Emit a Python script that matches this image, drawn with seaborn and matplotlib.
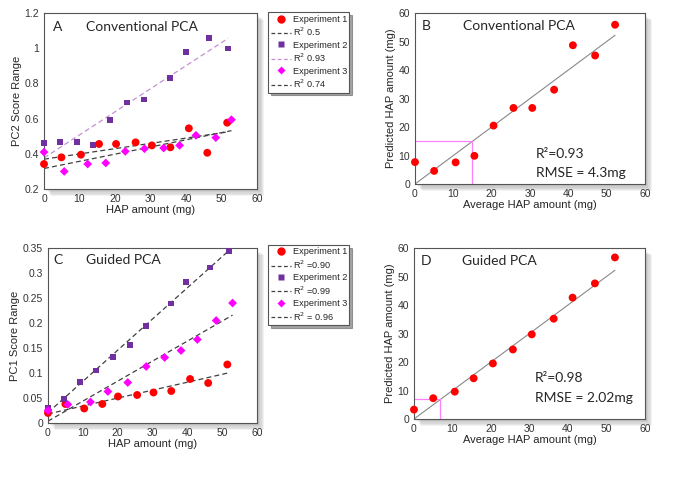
import numpy as np
import matplotlib
matplotlib.use("Agg")
import matplotlib.pyplot as plt
import matplotlib.patches as mpatches
from matplotlib.lines import Line2D
import pandas as pd
import seaborn as sns

# ---- data ----
# panel A: conventional PCA, PC2 score range
a_x1 = [0, 4.9, 10.4, 15.5, 20.3, 25.8, 30.4, 35.6, 40.8, 46.0, 51.6]
a_y1 = [0.342, 0.38, 0.395, 0.456, 0.456, 0.465, 0.448, 0.437, 0.545, 0.406, 0.577]
a_x2 = [0, 4.6, 9.3, 13.9, 18.7, 23.5, 28.1, 35.4, 39.9, 46.5, 51.9]
a_y2 = [0.461, 0.469, 0.469, 0.448, 0.594, 0.692, 0.709, 0.829, 0.98, 1.056, 0.999]
a_x3 = [0, 5.7, 12.3, 17.4, 22.9, 28.3, 33.7, 38.2, 42.8, 48.4, 52.8]
a_y3 = [0.41, 0.30, 0.342, 0.348, 0.414, 0.429, 0.433, 0.448, 0.505, 0.492, 0.594]
a_r2 = ["0.5", "0.93", "0.74"]

# panel C: guided PCA, PC1 score range
c_x1 = [0, 5.0, 10.4, 15.6, 20.1, 25.6, 30.3, 35.4, 40.8, 46.0, 51.5]
c_y1 = [0.020, 0.038, 0.029, 0.038, 0.053, 0.056, 0.061, 0.064, 0.088, 0.080, 0.117]
c_x2 = [0, 4.7, 9.3, 13.9, 18.7, 23.5, 28.1, 35.3, 39.7, 46.5, 51.9]
c_y2 = [0.030, 0.048, 0.082, 0.105, 0.132, 0.156, 0.194, 0.239, 0.282, 0.311, 0.344]
c_x3 = [0, 5.7, 12.2, 17.2, 22.9, 28.2, 33.5, 38.2, 42.9, 48.3, 53.0]
c_y3 = [0.025, 0.037, 0.042, 0.063, 0.081, 0.113, 0.131, 0.145, 0.167, 0.205, 0.240]
c_r2 = ["=0.90", "=0.99", "= 0.96"]

# panels B / D: predicted vs average HAP amount
avg_hap = [0, 5.0, 10.6, 15.5, 20.5, 25.7, 30.6, 36.3, 41.2, 47.0, 52.2]
pred_b = [7.7, 4.6, 7.6, 9.9, 20.5, 26.7, 26.7, 33.1, 48.7, 45.1, 55.9]
pred_d = [3.3, 7.3, 9.6, 14.3, 19.5, 24.4, 29.7, 35.2, 42.6, 47.6, 56.7]
lod_b = 15
lod_d = 6.85

RED = "#ff0000"
PURPLE = "#7030a0"
MAGENTA = "#ff00ff"
DARK = "#404040"
LILAC = "#c58fd6"

sns.set_style("white")
plt.rcParams["font.family"] = ["Liberation Sans", "DejaVu Sans"]
plt.rcParams["xtick.direction"] = "in"
plt.rcParams["ytick.direction"] = "in"

fig = plt.figure(figsize=(6.74, 4.78), dpi=100)

pos = {
    "A": [0.0653, 0.6046, 0.316, 0.368],
    "B": [0.6157, 0.615, 0.3412, 0.3577],
    "C": [0.0712, 0.1151, 0.310, 0.366],
    "D": [0.6142, 0.1234, 0.3427, 0.3577],
}

# soft drop shadow behind each axes box
for p in pos.values():
    for k in range(6):
        off = 0.002 + k * 0.0016
        fig.patches.append(mpatches.Rectangle(
            (p[0] + off, p[1] - off * 1.4), p[2], p[3],
            transform=fig.transFigure, facecolor="#000000",
            alpha=0.05, edgecolor="none", zorder=-5))

axes = {k: fig.add_axes(v) for k, v in pos.items()}
for a in axes.values():
    a.set_zorder(2)


def style(ax):
    ax.set_facecolor("white")
    for s in ax.spines.values():
        s.set_color("#555555")
        s.set_linewidth(0.8)
    ax.tick_params(labelsize=7.5, colors="#333333", length=2.5, width=0.6)
    ax.xaxis.label.set_size(8)
    ax.yaxis.label.set_size(8)
    ax.xaxis.labelpad = 1
    ax.yaxis.labelpad = 2


def pca_panel(ax, xs, ys, fitcols):
    markers = ["o", "s", "D"]
    cols = [RED, PURPLE, MAGENTA]
    sizes = [32, 18, 20]
    for i in range(3):
        df = pd.DataFrame({"x": xs[i], "y": ys[i]})
        sns.regplot(data=df, x="x", y="y", ax=ax, scatter=False, ci=None,
                    truncate=True,
                    line_kws=dict(color=fitcols[i], ls="--", lw=0.9, dashes=(4, 2.5)))
        sns.scatterplot(data=df, x="x", y="y", ax=ax, marker=markers[i],
                        color=cols[i], s=sizes[i], edgecolor="none", zorder=3,
                        clip_on=False)


# ---- panel A ----
ax = axes["A"]
pca_panel(ax, [a_x1, a_x2, a_x3], [a_y1, a_y2, a_y3], [DARK, LILAC, DARK])
ax.set_xlim(0, 60)
ax.set_ylim(0.2, 1.2)
ax.set_yticks([0.2, 0.4, 0.6, 0.8, 1.0, 1.2])
ax.set_yticklabels(["0.2", "0.4", "0.6", "0.8", "1", "1.2"])
ax.set_xlabel("HAP amount (mg)")
ax.set_ylabel("PC2 Score Range")
ax.text(2.5, 1.12, "A", fontsize=10, family="Lato", va="center")
ax.text(11.8, 1.12, "Conventional PCA", fontsize=10, family="Lato", va="center")
style(ax)

# ---- panel C ----
ax = axes["C"]
pca_panel(ax, [c_x1, c_x2, c_x3], [c_y1, c_y2, c_y3], [DARK, DARK, DARK])
ax.set_xlim(0, 60)
ax.set_ylim(0, 0.35)
ax.set_yticks([0, 0.05, 0.1, 0.15, 0.2, 0.25, 0.3, 0.35])
ax.set_yticklabels(["0", "0.05", "0.1", "0.15", "0.2", "0.25", "0.3", "0.35"])
ax.set_xlabel("HAP amount (mg)")
ax.set_ylabel("PC1 Score Range")
ax.text(1.6, 0.327, "C", fontsize=10, family="Lato", va="center")
ax.text(11, 0.327, "Guided PCA", fontsize=10, family="Lato", va="center")
style(ax)


def legend(r2, fitcols, top):
    handles = []
    labels = []
    markers = ["o", "s", "D"]
    cols = [RED, PURPLE, MAGENTA]
    msz = [6, 4.5, 4.5]
    for i in range(3):
        handles.append(Line2D([], [], marker=markers[i], color=cols[i], ls="none",
                              markersize=msz[i], markeredgecolor="none"))
        labels.append(f"Experiment {i + 1}")
        handles.append(Line2D([], [], color=fitcols[i], ls="--", lw=0.9, dashes=(3, 2)))
        labels.append("R$^2$ " + r2[i])
    leg = fig.legend(handles, labels, loc="upper left", bbox_to_anchor=(0.398, top),
                     fontsize=6.6, frameon=True, fancybox=False, shadow=True,
                     handlelength=2.2, handletextpad=0.2, borderpad=0.25,
                     labelspacing=0.25, borderaxespad=0)
    leg.set_zorder(3)
    leg.get_frame().set_edgecolor("#555555")
    leg.get_frame().set_linewidth(0.8)


legend(a_r2, [DARK, LILAC, DARK], 0.974)
legend(c_r2, [DARK, DARK, DARK], 0.488)


def pred_panel(ax, pred, lod, label, title, r2txt, rmse, ytxt):
    df = pd.DataFrame({"avg": avg_hap, "pred": pred})
    ax.plot([0, max(avg_hap)], [0, max(avg_hap)], color="#888888", lw=0.8)
    ax.plot([0, lod, lod], [lod, lod, 0], color="#ff80ff", lw=0.9)
    sns.scatterplot(data=df, x="avg", y="pred", ax=ax, color=RED, s=32,
                    edgecolor="none", zorder=3, clip_on=False)
    ax.set_xlim(0, 60)
    ax.set_ylim(0, 60)
    ax.set_xticks(range(0, 61, 10))
    ax.set_yticks(range(0, 61, 10))
    ax.set_xlabel("Average HAP amount (mg)")
    ax.set_ylabel("Predicted HAP amount (mg)")
    ax.text(1.8, 55.5, label, fontsize=10, family="Lato", va="center")
    ax.text(12.4, 55.5, title, fontsize=10, family="Lato", va="center")
    ax.text(31.5, ytxt[0], r2txt, fontsize=10, family="Lato", va="center")
    ax.text(31.5, ytxt[1], rmse, fontsize=10, family="Lato", va="center")
    style(ax)


pred_panel(axes["B"], pred_b, lod_b, "B", "Conventional PCA",
           "R²=0.93", "RMSE = 4.3mg", (10.6, 3.9))
pred_panel(axes["D"], pred_d, lod_d, "D", "Guided PCA",
           "R²=0.98", "RMSE = 2.02mg", (14.5, 7.3))

fig.savefig("out.png", dpi=100)
